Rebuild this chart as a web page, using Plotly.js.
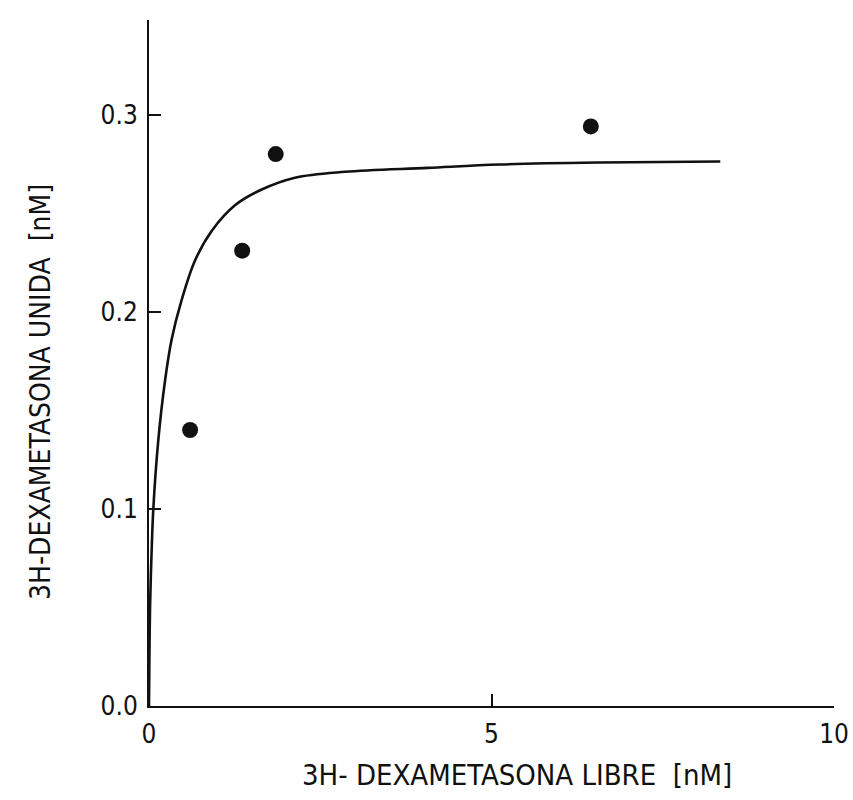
<!DOCTYPE html>
<html>
<head>
<meta charset="utf-8">
<script src="https://cdn.plot.ly/plotly-3.0.1.min.js"></script>
<style>html,body{margin:0;padding:0;background:#fff;}#chart{width:853px;height:800px;}</style>
</head>
<body>
<div id="chart"></div>
<script>
// Measured points
const pointX = [0.60, 1.36, 1.85, 6.45];
const pointY = [0.140, 0.231, 0.280, 0.294];
// Drawn curve
const curveX = [0, 0.004, 0.015, 0.035, 0.063, 0.136, 0.234, 0.331, 0.477, 0.672, 0.915, 1.255, 1.645, 2.131, 2.861, 4.07, 5.12, 6.58, 8.34];
const curveY = [0, 0.017, 0.050, 0.075, 0.100, 0.135, 0.165, 0.186, 0.206, 0.226, 0.241, 0.254, 0.262, 0.268, 0.271, 0.273, 0.2747, 0.2757, 0.2762];
const xTicks = [0, 5, 10];
const xTickText = ["0", "5", "10"];
const yTicks = [0, 0.1, 0.2, 0.3];
const yTickText = ["0.0", "0.1", "0.2", "0.3"];
const xTitle = '3H- DEXAMETASONA LIBRE  [nM]';
const yTitle = '3H-DEXAMETASONA UNIDA  [nM]';

const font = "'DejaVu Sans Condensed', 'Liberation Sans Narrow', 'Liberation Sans', sans-serif";

const traces = [
  {x: curveX, y: curveY, mode: 'lines', line: {color: '#111', width: 2.6, shape: 'spline', smoothing: 1}, hoverinfo: 'skip', showlegend: false},
  {x: pointX, y: pointY, mode: 'markers', marker: {color: '#111', size: 16, symbol: 'circle'}, showlegend: false}
];

const layout = {
  width: 853, height: 800,
  margin: {l: 149, r: 19, t: 20, b: 94},
  paper_bgcolor: '#fff', plot_bgcolor: '#fff',
  font: {family: font, color: '#111', size: 22},
  showlegend: false,
  xaxis: {
    range: [0, 10], tickvals: xTicks, ticktext: xTickText,
    showgrid: false, zeroline: false, showline: true, linecolor: '#111', linewidth: 2,
    ticks: 'inside', ticklen: 12, tickwidth: 2, tickcolor: '#111',
    tickfont: {size: 26, family: font},
    ticklabelstandoff: 4
  },
  yaxis: {
    range: [0, 0.348], tickvals: yTicks, ticktext: yTickText,
    showgrid: false, zeroline: false, showline: true, linecolor: '#111', linewidth: 2,
    ticks: 'inside', ticklen: 12, tickwidth: 2, tickcolor: '#111',
    tickfont: {size: 26, family: font},
    ticklabelstandoff: 4
  },
  annotations: [
    {text: xTitle, xref: 'paper', yref: 'paper', x: (517 - 149) / 685, y: -(775 - 706) / 686,
     xanchor: 'center', yanchor: 'middle', showarrow: false, font: {size: 29, family: font, color: '#111'}},
    {text: yTitle, xref: 'paper', yref: 'paper', x: -(149 - 40) / 685, y: (706 - 392) / 686,
     xanchor: 'center', yanchor: 'middle', textangle: -90, showarrow: false, font: {size: 28, family: font, color: '#111'}}
  ]
};

Plotly.newPlot('chart', traces, layout, {displayModeBar: false, staticPlot: true});
</script>
</body>
</html>
